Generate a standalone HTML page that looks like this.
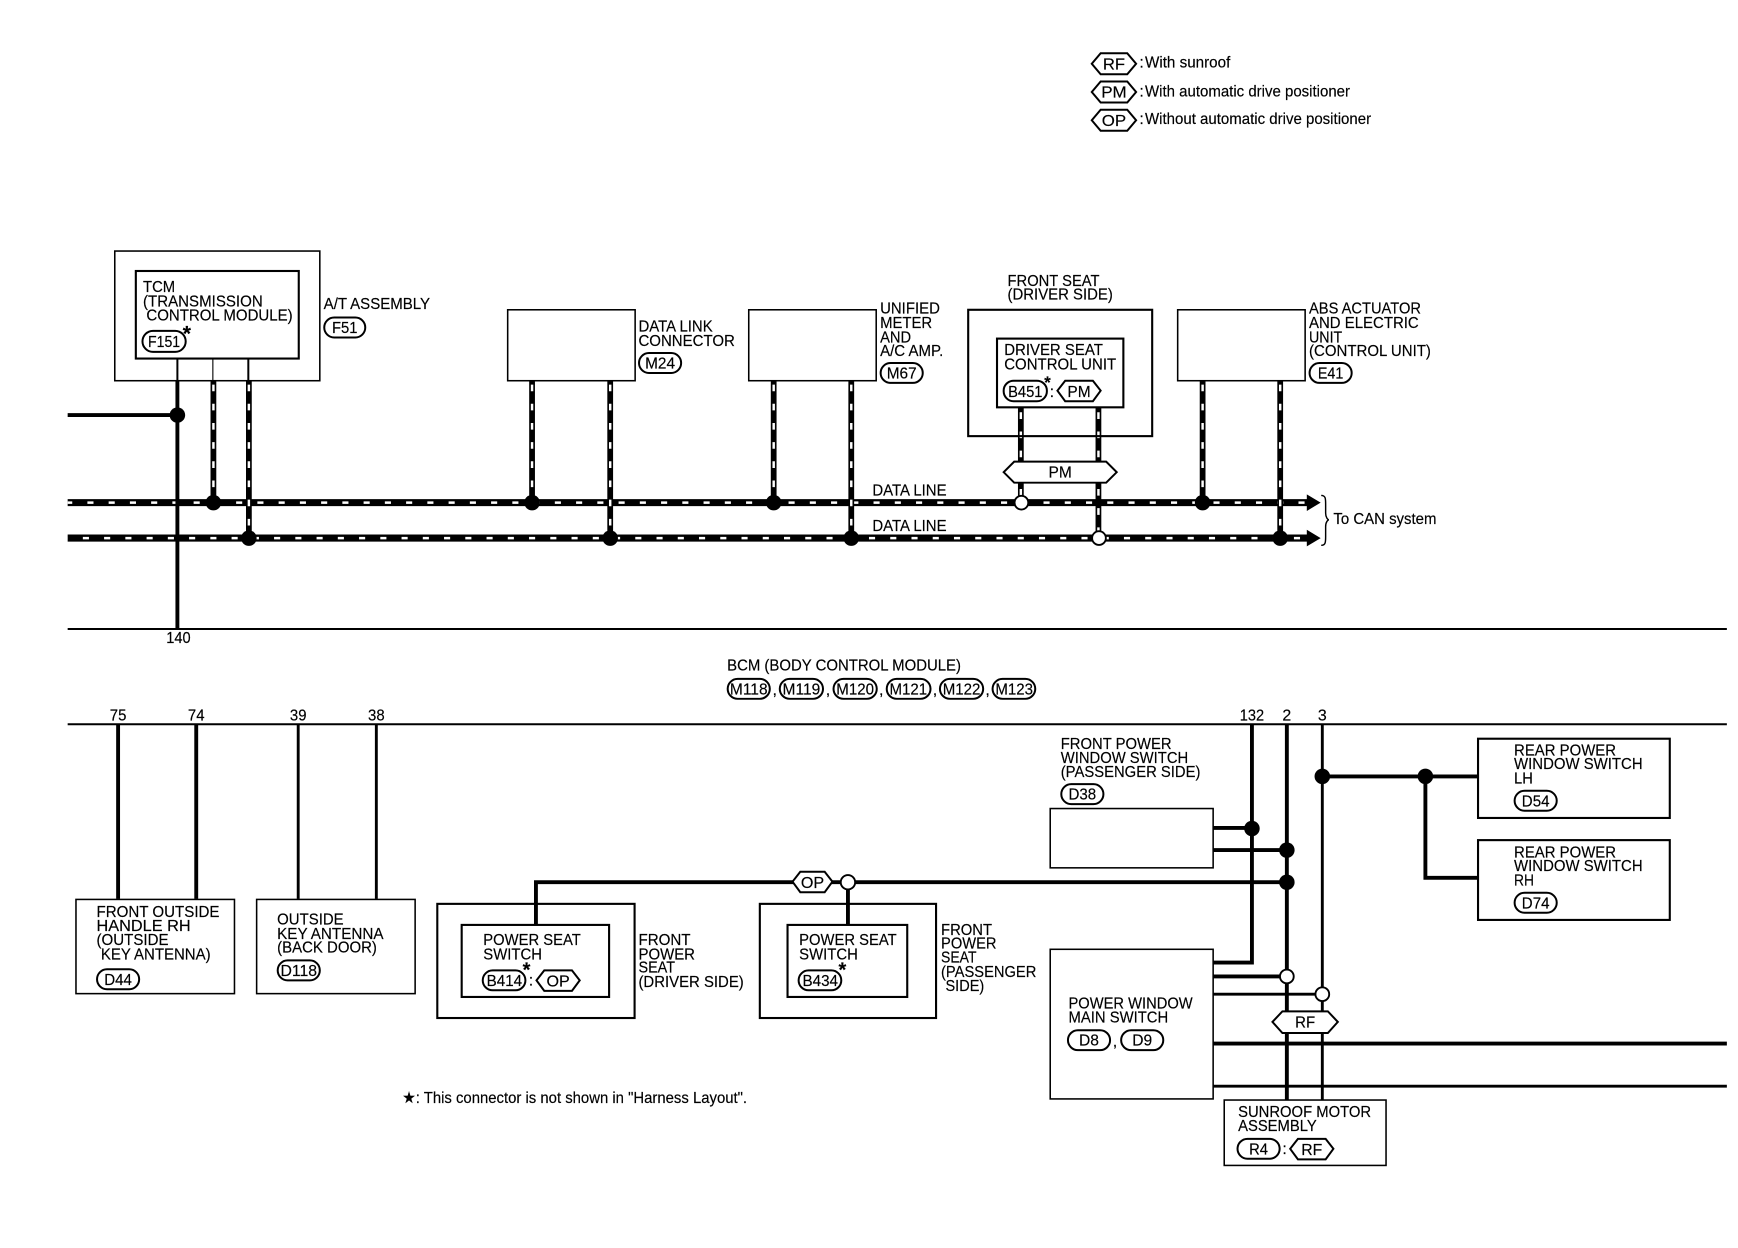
<!DOCTYPE html>
<html><head><meta charset="utf-8"><title>Wiring diagram</title>
<style>
html,body{margin:0;padding:0;background:#fff}
svg{display:block}
text{font-family:"Liberation Sans",sans-serif;font-size:14.5px;fill:#000;stroke:#000;stroke-width:.15}
.m{text-anchor:middle}
.box{fill:#fff;stroke:#000;stroke-width:1.4}
.b2{fill:none;stroke:#000;stroke-width:1.9}
.w{fill:none;stroke:#000;stroke-width:3.5}
.t{fill:none;stroke:#000;stroke-width:2.6}
.dk{fill:none;stroke:#000;stroke-width:5.2}
.dw{fill:none;stroke:#fff;stroke-width:2.2;stroke-dasharray:6 11.3;stroke-dashoffset:-3}
.hk{fill:none;stroke:#000;stroke-width:6.4}
.hw{fill:none;stroke:#fff;stroke-width:2.3;stroke-dasharray:5.5 13.67}
.p{fill:#fff;stroke:#000;stroke-width:1.8}
.n{fill:#000}
.o{fill:#fff;stroke:#000;stroke-width:1.7}
</style></head><body>
<svg xmlns="http://www.w3.org/2000/svg" width="1738" height="1248" viewBox="0 0 1568 1126">
<rect width="1568" height="1126" fill="#fff"/>

<!-- legend -->
<polygon class="p" points="985,57.5 993,48 1017,48 1025,57.5 1017,67 993,67"/>
<text class="m" x="1005" y="62.5" textLength="20" lengthAdjust="spacingAndGlyphs">RF</text>
<text x="1028" y="61">:</text><text x="1033" y="61" textLength="77" lengthAdjust="spacingAndGlyphs">With sunroof</text>
<polygon class="p" points="985,83 993,73.5 1017,73.5 1025,83 1017,92.5 993,92.5"/>
<text class="m" x="1005" y="88" textLength="23" lengthAdjust="spacingAndGlyphs">PM</text>
<text x="1028" y="87">:</text><text x="1033" y="87" textLength="185" lengthAdjust="spacingAndGlyphs">With automatic drive positioner</text>
<polygon class="p" points="985,108.5 993,99 1017,99 1025,108.5 1017,118 993,118"/>
<text class="m" x="1005" y="113.5" textLength="22" lengthAdjust="spacingAndGlyphs">OP</text>
<text x="1028" y="112">:</text><text x="1033" y="112" textLength="204" lengthAdjust="spacingAndGlyphs">Without automatic drive positioner</text>

<!-- data lines -->
<path class="hk" d="M61 453.5H1181M61 485.5H1181"/>
<path class="hw" d="M61 453.5H1179" stroke-dashoffset="-17.8"/>
<path class="hw" d="M61 485.5H1179" stroke-dashoffset="-13.7"/>
<polygon class="n" points="1179,446 1191.5,453.5 1179,461"/>
<polygon class="n" points="1179,478 1191.5,485.5 1179,493"/>
<path fill="none" stroke="#000" stroke-width="1.3" d="M1192 447C1196 447 1196 450 1196 455V463C1196 467 1198 469 1199 469C1198 469 1196 471 1196 475V484C1196 489 1196 492 1192 492"/>
<text x="1203" y="473" textLength="93" lengthAdjust="spacingAndGlyphs">To CAN system</text>
<text x="787" y="447" textLength="67" lengthAdjust="spacingAndGlyphs">DATA LINE</text>
<text x="787" y="479" textLength="67" lengthAdjust="spacingAndGlyphs">DATA LINE</text>

<!-- vertical data stubs -->
<path class="dk" d="M192.5 343V453M224.5 343V485M480 343V453M550.5 343V485M698 343V453M768 343V485M921 368V453M991 368V485M1085 343V453M1155 343V485"/>
<path class="dw" d="M192.5 344V450M224.5 344V482M480 344V450M550.5 344V482M698 344V450M768 344V482M921 369V450M991 369V482M1085 344V450M1155 344V482"/>

<!-- TCM -->
<rect class="box" x="103.5" y="226.5" width="185" height="117"/>
<rect class="b2" x="122.5" y="244.5" width="147" height="79" fill="#fff"/>
<path stroke="#000" stroke-width="1.8" d="M160 324V343M224 324V343"/>
<path stroke="#000" stroke-width="1" d="M192 324V343"/>
<text x="129" y="263.5" textLength="29" lengthAdjust="spacingAndGlyphs">TCM</text>
<text x="129" y="276.5" textLength="108" lengthAdjust="spacingAndGlyphs">(TRANSMISSION</text>
<text x="132" y="289" textLength="132" lengthAdjust="spacingAndGlyphs">CONTROL MODULE)</text>
<rect class="p" x="128.5" y="298.5" width="39" height="19" rx="9.5"/>
<text class="m" x="148" y="313" textLength="29" lengthAdjust="spacingAndGlyphs">F151</text>
<text class="m" x="168.5" y="307" style="font-size:19px;font-weight:bold">*</text>
<text x="292" y="279" textLength="96" lengthAdjust="spacingAndGlyphs">A/T ASSEMBLY</text>
<rect class="p" x="292.5" y="286.5" width="37" height="18" rx="9"/>
<text class="m" x="311" y="300.5" textLength="23" lengthAdjust="spacingAndGlyphs">F51</text>

<!-- data link -->
<rect class="box" x="458" y="279.5" width="115" height="64"/>
<text x="576" y="299" textLength="67" lengthAdjust="spacingAndGlyphs">DATA LINK</text>
<text x="576" y="312" textLength="87" lengthAdjust="spacingAndGlyphs">CONNECTOR</text>
<rect class="p" x="576.5" y="318.5" width="38" height="18" rx="9"/>
<text class="m" x="595.5" y="332.5" textLength="27" lengthAdjust="spacingAndGlyphs">M24</text>

<!-- unified -->
<rect class="box" x="675.5" y="279.5" width="115" height="64"/>
<text x="794" y="283" textLength="54" lengthAdjust="spacingAndGlyphs">UNIFIED</text>
<text x="794" y="296" textLength="47" lengthAdjust="spacingAndGlyphs">METER</text>
<text x="794" y="309" textLength="28" lengthAdjust="spacingAndGlyphs">AND</text>
<text x="794" y="321" textLength="57" lengthAdjust="spacingAndGlyphs">A/C AMP.</text>
<rect class="p" x="794.5" y="327.5" width="38" height="18" rx="9"/>
<text class="m" x="813.5" y="341.5" textLength="27" lengthAdjust="spacingAndGlyphs">M67</text>

<!-- front seat driver -->
<text x="909" y="258" textLength="83" lengthAdjust="spacingAndGlyphs">FRONT SEAT</text>
<text x="909" y="270" textLength="95" lengthAdjust="spacingAndGlyphs">(DRIVER SIDE)</text>
<rect class="b2" x="873.5" y="279.5" width="166" height="114"/>
<rect class="b2" x="899.5" y="305.5" width="114" height="62" fill="#fff"/>
<text x="906" y="320.5" textLength="89" lengthAdjust="spacingAndGlyphs">DRIVER SEAT</text>
<text x="906" y="333.5" textLength="101" lengthAdjust="spacingAndGlyphs">CONTROL UNIT</text>
<rect class="p" x="905.5" y="343.5" width="39" height="18.5" rx="9"/>
<text class="m" x="925" y="358" textLength="31" lengthAdjust="spacingAndGlyphs">B451</text>
<text class="m" x="945" y="350" style="font-size:15px;font-weight:bold">*</text>
<text class="m" x="949" y="358">:</text>
<polygon class="p" points="954,352.5 961,343.5 986,343.5 993,352.5 986,362 961,362"/>
<text class="m" x="973.5" y="358" textLength="21" lengthAdjust="spacingAndGlyphs">PM</text>
<polygon class="p" points="905.5,426 915,416.5 998,416.5 1007.5,426 998,435.5 915,435.5"/>
<text class="m" x="956.5" y="431" textLength="21" lengthAdjust="spacingAndGlyphs">PM</text>

<!-- ABS -->
<rect class="box" x="1062.5" y="279.5" width="115" height="64"/>
<text x="1181" y="283" textLength="101" lengthAdjust="spacingAndGlyphs">ABS ACTUATOR</text>
<text x="1181" y="296" textLength="99" lengthAdjust="spacingAndGlyphs">AND ELECTRIC</text>
<text x="1181" y="309" textLength="30" lengthAdjust="spacingAndGlyphs">UNIT</text>
<text x="1181" y="321" textLength="110" lengthAdjust="spacingAndGlyphs">(CONTROL UNIT)</text>
<rect class="p" x="1181.5" y="327.5" width="38" height="18" rx="9"/>
<text class="m" x="1200.5" y="341.5" textLength="23" lengthAdjust="spacingAndGlyphs">E41</text>

<!-- top solid -->
<path class="w" d="M61 374.5H160M160 343V567"/>
<circle class="n" cx="160" cy="374.5" r="7"/>
<circle class="n" cx="192.5" cy="453.5" r="7"/>
<circle class="n" cx="224.5" cy="485.5" r="7"/>
<circle class="n" cx="480" cy="453.5" r="7"/>
<circle class="n" cx="550.5" cy="485.5" r="7"/>
<circle class="n" cx="698" cy="453.5" r="7"/>
<circle class="n" cx="768" cy="485.5" r="7"/>
<circle class="o" cx="921.5" cy="453.5" r="6.2"/>
<circle class="o" cx="991.5" cy="485.5" r="6.2"/>
<circle class="n" cx="1085" cy="453.5" r="7"/>
<circle class="n" cx="1155" cy="485.5" r="7"/>

<!-- BCM -->
<path stroke="#000" stroke-width="1.8" d="M61 567.5H1558M61 653.5H1558"/>
<text class="m" x="161" y="580" textLength="22" lengthAdjust="spacingAndGlyphs">140</text>
<text x="656" y="605" textLength="211" lengthAdjust="spacingAndGlyphs">BCM (BODY CONTROL MODULE)</text>
<rect class="p" x="656.5" y="612.5" width="38" height="18" rx="9"/><text class="m" x="675.5" y="626.5" textLength="34" lengthAdjust="spacingAndGlyphs">M118</text>
<text class="m" x="699" y="627">,</text>
<rect class="p" x="703.5" y="612.5" width="39" height="18" rx="9"/><text class="m" x="723" y="626.5" textLength="34" lengthAdjust="spacingAndGlyphs">M119</text>
<text class="m" x="747" y="627">,</text>
<rect class="p" x="752" y="612.5" width="39" height="18" rx="9"/><text class="m" x="771.5" y="626.5" textLength="34" lengthAdjust="spacingAndGlyphs">M120</text>
<text class="m" x="795" y="627">,</text>
<rect class="p" x="800" y="612.5" width="39.5" height="18" rx="9"/><text class="m" x="819.5" y="626.5" textLength="34" lengthAdjust="spacingAndGlyphs">M121</text>
<text class="m" x="843.5" y="627">,</text>
<rect class="p" x="848" y="612.5" width="39" height="18" rx="9"/><text class="m" x="867.5" y="626.5" textLength="34" lengthAdjust="spacingAndGlyphs">M122</text>
<text class="m" x="891" y="627">,</text>
<rect class="p" x="895.5" y="612.5" width="38.5" height="18" rx="9"/><text class="m" x="915" y="626.5" textLength="34" lengthAdjust="spacingAndGlyphs">M123</text>
<text class="m" x="106.5" y="650" textLength="15" lengthAdjust="spacingAndGlyphs">75</text>
<text class="m" x="177" y="650" textLength="15" lengthAdjust="spacingAndGlyphs">74</text>
<text class="m" x="269" y="650" textLength="15" lengthAdjust="spacingAndGlyphs">39</text>
<text class="m" x="339.5" y="650" textLength="15" lengthAdjust="spacingAndGlyphs">38</text>
<text class="m" x="1129.5" y="650" textLength="22" lengthAdjust="spacingAndGlyphs">132</text>
<text class="m" x="1161" y="650" textLength="8" lengthAdjust="spacingAndGlyphs">2</text>
<text class="m" x="1193" y="650" textLength="8" lengthAdjust="spacingAndGlyphs">3</text>

<!-- lower left wires -->
<path class="w" d="M106.5 653V811M177 653V811"/>
<path class="t" d="M269 653V811M339.5 653V811"/>
<path class="w" d="M483.5 834V796H1161"/>
<path class="w" d="M765 796V834"/>

<!-- front outside -->
<rect class="box" x="68.5" y="811.5" width="143" height="85"/>
<text x="87" y="827.5" textLength="111" lengthAdjust="spacingAndGlyphs">FRONT OUTSIDE</text>
<text x="87" y="840" textLength="85" lengthAdjust="spacingAndGlyphs">HANDLE RH</text>
<text x="87" y="852.5" textLength="65" lengthAdjust="spacingAndGlyphs">(OUTSIDE</text>
<text x="91" y="865.5" textLength="99" lengthAdjust="spacingAndGlyphs">KEY ANTENNA)</text>
<rect class="p" x="87.5" y="874.5" width="38" height="18" rx="9"/>
<text class="m" x="106.5" y="888.5" textLength="25" lengthAdjust="spacingAndGlyphs">D44</text>

<!-- outside key -->
<rect class="box" x="231.5" y="811.5" width="143" height="85"/>
<text x="250" y="834" textLength="60" lengthAdjust="spacingAndGlyphs">OUTSIDE</text>
<text x="250" y="847" textLength="96" lengthAdjust="spacingAndGlyphs">KEY ANTENNA</text>
<text x="250" y="859.5" textLength="90" lengthAdjust="spacingAndGlyphs">(BACK DOOR)</text>
<rect class="p" x="250.5" y="866.5" width="38" height="18" rx="9"/>
<text class="m" x="269.5" y="880.5" textLength="33" lengthAdjust="spacingAndGlyphs">D118</text>

<!-- power seat driver -->
<rect class="b2" x="394.5" y="815.5" width="178" height="103"/>
<rect class="b2" x="416.5" y="834.5" width="133" height="65" fill="#fff"/>
<text x="436" y="852.5" textLength="88" lengthAdjust="spacingAndGlyphs">POWER SEAT</text>
<text x="436" y="865.5" textLength="53" lengthAdjust="spacingAndGlyphs">SWITCH</text>
<rect class="p" x="435.5" y="875.5" width="38.5" height="18" rx="9"/>
<text class="m" x="455" y="889.5" textLength="32" lengthAdjust="spacingAndGlyphs">B414</text>
<text class="m" x="475" y="881" style="font-size:18px;font-weight:bold">*</text>
<text class="m" x="479" y="889">:</text>
<polygon class="p" points="484,884.5 491,875.5 516,875.5 523,884.5 516,894 491,894"/>
<text class="m" x="503.5" y="890" textLength="21" lengthAdjust="spacingAndGlyphs">OP</text>
<text x="576" y="852.5" textLength="47" lengthAdjust="spacingAndGlyphs">FRONT</text>
<text x="576" y="865.5" textLength="51" lengthAdjust="spacingAndGlyphs">POWER</text>
<text x="576" y="877.5" textLength="33" lengthAdjust="spacingAndGlyphs">SEAT</text>
<text x="576" y="890.5" textLength="95" lengthAdjust="spacingAndGlyphs">(DRIVER SIDE)</text>

<!-- OP hex and node -->
<polygon class="p" points="715,795.5 722,786.5 744,786.5 751,795.5 744,805 722,805"/>
<text class="m" x="733" y="801" textLength="21" lengthAdjust="spacingAndGlyphs">OP</text>
<circle class="o" cx="765" cy="796" r="6.5"/>

<!-- power seat passenger -->
<rect class="b2" x="685.5" y="815.5" width="159" height="103"/>
<rect class="b2" x="710.5" y="834.5" width="108" height="65" fill="#fff"/>
<text x="721" y="852.5" textLength="88" lengthAdjust="spacingAndGlyphs">POWER SEAT</text>
<text x="721" y="865.5" textLength="53" lengthAdjust="spacingAndGlyphs">SWITCH</text>
<rect class="p" x="720.5" y="875.5" width="38.5" height="18" rx="9"/>
<text class="m" x="740" y="889.5" textLength="32" lengthAdjust="spacingAndGlyphs">B434</text>
<text class="m" x="760" y="881" style="font-size:18px;font-weight:bold">*</text>
<text x="849" y="843.5" textLength="46" lengthAdjust="spacingAndGlyphs">FRONT</text>
<text x="849" y="856" textLength="50" lengthAdjust="spacingAndGlyphs">POWER</text>
<text x="849" y="868.5" textLength="32" lengthAdjust="spacingAndGlyphs">SEAT</text>
<text x="849" y="881.5" textLength="86" lengthAdjust="spacingAndGlyphs">(PASSENGER</text>
<text x="853" y="894" textLength="35" lengthAdjust="spacingAndGlyphs">SIDE)</text>

<text x="363" y="995" textLength="311" lengthAdjust="spacingAndGlyphs">★: This connector is not shown in "Harness Layout".</text>

<!-- right wires -->
<path class="w" d="M1094 747H1129M1094 767H1161M1094 868.5H1129.5V653M1161 653V992M1094 881H1161M1094 941.5H1558"/>
<path class="t" d="M1193 653V992M1094 897H1193M1094 980H1558"/>
<path class="w" d="M1193 700.5H1334M1286 700.5V792H1334"/>

<!-- front PW passenger -->
<text x="957" y="676" textLength="100" lengthAdjust="spacingAndGlyphs">FRONT POWER</text>
<text x="957" y="688.5" textLength="115" lengthAdjust="spacingAndGlyphs">WINDOW SWITCH</text>
<text x="957" y="701" textLength="126" lengthAdjust="spacingAndGlyphs">(PASSENGER SIDE)</text>
<rect class="p" x="957.5" y="707.5" width="38" height="18" rx="9"/>
<text class="m" x="976.5" y="721.5" textLength="25" lengthAdjust="spacingAndGlyphs">D38</text>
<rect class="box" x="947.5" y="729.5" width="147" height="53.5"/>

<!-- main switch -->
<rect class="box" x="947.5" y="856.5" width="147" height="135"/>
<text x="964" y="910" textLength="112" lengthAdjust="spacingAndGlyphs">POWER WINDOW</text>
<text x="964" y="922.5" textLength="90" lengthAdjust="spacingAndGlyphs">MAIN SWITCH</text>
<rect class="p" x="963.5" y="929.5" width="38" height="18" rx="9"/>
<text class="m" x="982.5" y="943.5" textLength="18" lengthAdjust="spacingAndGlyphs">D8</text>
<text class="m" x="1006" y="944">,</text>
<rect class="p" x="1011.5" y="929.5" width="38" height="18" rx="9"/>
<text class="m" x="1030.5" y="943.5" textLength="18" lengthAdjust="spacingAndGlyphs">D9</text>

<circle class="n" cx="1129.5" cy="747.5" r="7"/>
<circle class="n" cx="1161" cy="767" r="7"/>
<circle class="n" cx="1161" cy="796" r="7"/>
<circle class="o" cx="1161" cy="881" r="6.2"/>
<circle class="o" cx="1193" cy="897" r="6.2"/>
<circle class="n" cx="1193" cy="700.5" r="7"/>
<circle class="n" cx="1286" cy="700.5" r="7"/>

<polygon class="p" points="1148,922 1157,912.5 1198,912.5 1207,922 1198,932 1157,932"/>
<text class="m" x="1177.5" y="927" textLength="18" lengthAdjust="spacingAndGlyphs">RF</text>

<!-- sunroof -->
<rect class="box" x="1104.5" y="992.5" width="146" height="59"/>
<text x="1117" y="1008" textLength="120" lengthAdjust="spacingAndGlyphs">SUNROOF MOTOR</text>
<text x="1117" y="1020.5" textLength="71" lengthAdjust="spacingAndGlyphs">ASSEMBLY</text>
<rect class="p" x="1116.5" y="1027.5" width="38" height="18" rx="9"/>
<text class="m" x="1135.5" y="1041.5" textLength="17" lengthAdjust="spacingAndGlyphs">R4</text>
<text class="m" x="1159" y="1041">:</text>
<polygon class="p" points="1164,1036.5 1171,1027.5 1196,1027.5 1203,1036.5 1196,1046 1171,1046"/>
<text class="m" x="1183.5" y="1042" textLength="19" lengthAdjust="spacingAndGlyphs">RF</text>

<!-- rear switches -->
<rect class="b2" x="1333.5" y="666.5" width="173" height="71.5"/>
<text x="1366" y="681.5" textLength="92" lengthAdjust="spacingAndGlyphs">REAR POWER</text>
<text x="1366" y="694" textLength="116" lengthAdjust="spacingAndGlyphs">WINDOW SWITCH</text>
<text x="1366" y="707" textLength="17" lengthAdjust="spacingAndGlyphs">LH</text>
<rect class="p" x="1366.5" y="713.5" width="38" height="18" rx="9"/>
<text class="m" x="1385.5" y="727.5" textLength="25" lengthAdjust="spacingAndGlyphs">D54</text>
<rect class="b2" x="1333.5" y="758" width="173" height="72"/>
<text x="1366" y="773.5" textLength="92" lengthAdjust="spacingAndGlyphs">REAR POWER</text>
<text x="1366" y="786" textLength="116" lengthAdjust="spacingAndGlyphs">WINDOW SWITCH</text>
<text x="1366" y="799" textLength="18" lengthAdjust="spacingAndGlyphs">RH</text>
<rect class="p" x="1366.5" y="805.5" width="38" height="18" rx="9"/>
<text class="m" x="1385.5" y="819.5" textLength="25" lengthAdjust="spacingAndGlyphs">D74</text>
</svg>
</body></html>
